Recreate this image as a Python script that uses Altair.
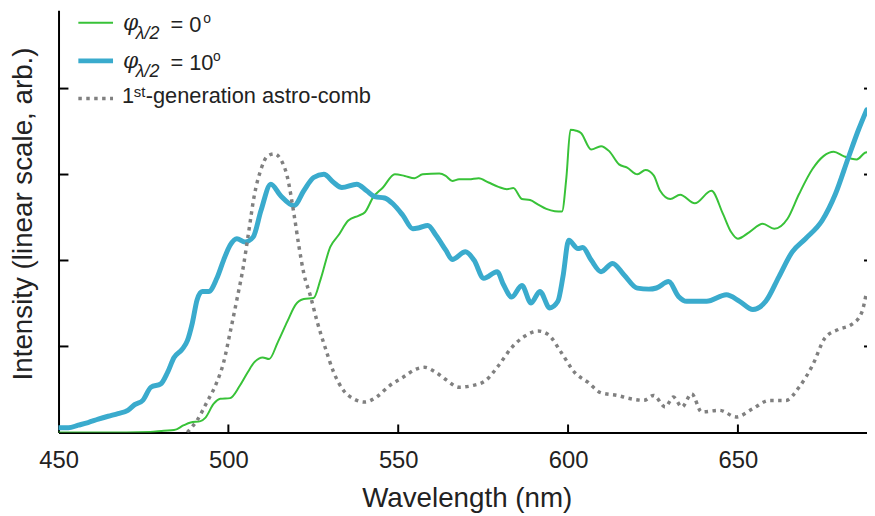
import altair as alt
import pandas as pd

# ---------------- data ----------------
green_nm = [450, 460, 470, 477, 481, 484, 486.9, 488.9, 491.8, 493.2, 495.7, 497.6, 500.5,
            503.4, 505.7, 507.6, 510.1, 512.0, 514.5, 517.4, 519.8, 522.2, 525.1, 527.1,
            530.0, 532.4, 535.3, 538.4, 540.2, 542.6, 545.5, 549.0, 551.9, 554.8, 557.2,
            562.1, 564.0, 565.9, 567.9, 570.8, 573.7, 576.6, 579.5, 582.0, 583.9, 586.4,
            588.8, 591.2, 593.6, 596.1, 598.2, 599.5, 600.7, 602.4, 603.8, 606.8, 609.7,
            612.1, 615.0, 617.4, 620.4, 622.8, 625.2, 627.1, 630.1, 633.0, 637.3, 642.2,
            645.6, 648.0, 650.0, 653.4, 657.3, 660.7, 664.6, 668.0, 671.9, 675.2, 678.2,
            681.1, 685.0, 687.4, 688.0]
green_val = [0, 0, 0, 0.005, 0.02, 0.027, 0.084, 0.115, 0.131, 0.169, 0.334, 0.392, 0.399,
             0.545, 0.70, 0.814, 0.872, 0.853, 1.045, 1.294, 1.486, 1.551, 1.563, 1.774,
             2.158, 2.293, 2.465, 2.523, 2.561, 2.734, 2.849, 3.003, 2.984, 2.957, 3.003,
             3.011, 2.984, 2.926, 2.945, 2.945, 2.957, 2.907, 2.857, 2.830, 2.842, 2.715,
             2.703, 2.650, 2.600, 2.573, 2.569, 2.965, 3.521, 3.510, 3.483, 3.291, 3.330,
             3.272, 3.118, 3.080, 3.003, 3.053, 2.990, 2.811, 2.715, 2.765, 2.665, 2.811,
             2.542, 2.331, 2.254, 2.331, 2.427, 2.369, 2.485, 2.773, 3.061, 3.214, 3.264,
             3.214, 3.176, 3.253, 3.26]

blue_nm = [450, 452.9, 455.8, 458.7, 461.7, 464.6, 467.5, 470.4, 472.4, 474.8, 477.2, 480.1,
           482.1, 484.0, 486.4, 487.9, 489.4, 490.8, 492.3, 494.2, 496.6, 498.6, 500.5,
           502.5, 504.9, 507.3, 509.6, 512.5, 515.4, 519.3, 522.2, 525.1, 528.1, 531.0,
           533.4, 537.8, 540.7, 543.1, 546.0, 548.5, 551.4, 554.3, 556.2, 558.7, 561.1,
           564.0, 565.9, 569.8, 572.3, 575.2, 579.1, 581.0, 583.4, 586.4, 589.1, 591.7,
           594.6, 597.0, 598.5, 600.2, 602.9, 604.3, 606.8, 609.7, 613.1, 616.5, 620.4,
           623.8, 626.0, 629.6, 632.5, 634.9, 640.8, 646.6, 650.5, 654.4, 658.2, 662.1,
           666.0, 669.9, 674.8, 678.7, 682.5, 685.5, 687.9]
blue_val = [0.054, 0.054, 0.084, 0.115, 0.154, 0.188, 0.219, 0.257, 0.323, 0.373, 0.526,
            0.564, 0.699, 0.872, 0.968, 1.064, 1.275, 1.544, 1.640, 1.640, 1.793, 2.005,
            2.177, 2.254, 2.216, 2.273, 2.581, 2.888, 2.753, 2.638, 2.811, 2.965, 3.003,
            2.907, 2.849, 2.888, 2.811, 2.742, 2.727, 2.657, 2.523, 2.369, 2.381, 2.408,
            2.293, 2.120, 2.012, 2.101, 2.005, 1.793, 1.870, 1.717, 1.575, 1.709, 1.505,
            1.640, 1.448, 1.525, 1.813, 2.235, 2.139, 2.151, 2.005, 1.870, 1.966, 1.832,
            1.678, 1.667, 1.680, 1.755, 1.582, 1.525, 1.525, 1.601, 1.525, 1.429, 1.525,
            1.813, 2.101, 2.254, 2.465, 2.773, 3.195, 3.521, 3.752]

comb_nm = [487.9, 490.8, 493.7, 496.6, 498.6, 500.5, 502.5, 504.4, 505.9, 507.6, 509.6,
           511.5, 513.5, 515.4, 517.4, 519.3, 520.8, 522.2, 524.2, 526.1, 528.5, 531.0,
           533.9, 536.8, 540.2, 543.6, 547.5, 551.4, 555.3, 557.7, 561.1, 564.0, 567.9,
           571.8, 575.7, 579.5, 583.4, 587.3, 591.2, 594.1, 598.0, 601.9, 605.8, 609.7,
           614.5, 618.4, 622.3, 625.2, 628.6, 631.0, 633.5, 636.4, 639.3, 644.6, 649.5,
           654.4, 659.2, 664.1, 668.0, 671.9, 675.7, 679.6, 683.5, 686.4, 687.9]
comb_val = [0, 0.142, 0.353, 0.584, 0.814, 1.160, 1.544, 1.928, 2.312, 2.75, 3.061, 3.214,
            3.241, 3.176, 2.965, 2.542, 2.158, 1.851, 1.582, 1.294, 0.987, 0.699, 0.488,
            0.392, 0.353, 0.411, 0.545, 0.641, 0.737, 0.757, 0.699, 0.615, 0.526, 0.545,
            0.603, 0.776, 0.987, 1.121, 1.179, 1.140, 0.929, 0.699, 0.584, 0.461, 0.430,
            0.392, 0.373, 0.430, 0.296, 0.411, 0.296, 0.449, 0.238, 0.257, 0.180, 0.276,
            0.372, 0.372, 0.526, 0.776, 1.102, 1.198, 1.256, 1.390, 1.640]

x_ticks = [500, 550, 600, 650]
x_labels = [450, 500, 550, 600, 650]
y_ticks = [1, 2, 3, 4]

x_title = "Wavelength (nm)"
y_title = "Intensity (linear scale, arb.)"
legend_eq = ["= 0", "= 10"]
legend_comb = ["1", "st", "-generation astro-comb"]

# ---------------- styling ----------------
W, H = 816, 426
FONT = "Liberation Sans"
TXT = "#222222"
GREEN, BLUE, GREY = "#38c238", "#3aabcd", "#808080"

xscale = alt.Scale(domain=[450, 688], nice=False, zero=False)
yscale = alt.Scale(domain=[0, 4.91], nice=False, zero=False)

x_axis = alt.Axis(values=x_labels, title=x_title, ticks=False, tickSize=0, grid=False,
                  labelPadding=16, labelFontSize=24, labelColor=TXT, labelFont=FONT,
                  labelFlush=False, labelOverlap=False,
                  titleFontSize=28, titleFont=FONT, titleColor=TXT, titleFontWeight="normal",
                  titlePadding=13, titleX=412, domainColor="black", domainWidth=2)
y_axis = alt.Axis(title=y_title, labels=False, ticks=False, tickSize=0, grid=False,
                  titleFontSize=28, titleFont=FONT, titleColor=TXT, titleFontWeight="normal",
                  titlePadding=21, titleY=205, domain=True, domainColor="black", domainWidth=2)

X = alt.X("nm:Q", scale=xscale, axis=x_axis)
Y = alt.Y("val:Q", scale=yscale, axis=y_axis)


def series(nm, val):
    return pd.DataFrame({"nm": nm, "val": val})


def line(df, color, width, dash=None):
    kw = dict(color=color, strokeWidth=width, interpolate="monotone", clip=True,
              strokeJoin="round")
    if dash is not None:
        kw["strokeDash"] = dash
        kw["strokeCap"] = "butt"
    else:
        kw["strokeCap"] = "round"
    return alt.Chart(df).mark_line(**kw).encode(x=X, y=Y)


green = line(series(green_nm, green_val), GREEN, 2)
blue = line(series(blue_nm, blue_val), BLUE, 5)
comb = line(series(comb_nm, comb_val), GREY, 3.5, dash=[3.5, 4.5])

xt = pd.DataFrame({"nm": x_ticks})
yt = pd.DataFrame({"val": y_ticks})
bottom_ticks = alt.Chart(xt).mark_rule(color="black", strokeWidth=2).encode(
    x=X, y=alt.value(H), y2=alt.value(H - 8))
left_ticks = alt.Chart(yt).mark_rule(color="black", strokeWidth=2).encode(
    y=Y, x=alt.value(0), x2=alt.value(10))
right_ticks = alt.Chart(yt).mark_rule(color="black", strokeWidth=2).encode(
    y=Y, x=alt.value(W - 3), x2=alt.value(W))

one = pd.DataFrame({"k": [0]})


def sample(y, color, width, dash=None):
    kw = dict(color=color, strokeWidth=width)
    if dash is not None:
        kw["strokeDash"] = dash
        kw["strokeCap"] = "butt"
    return alt.Chart(one).mark_rule(**kw).encode(
        x=alt.value(20), x2=alt.value(55), y=alt.value(y))


def txt(text, x, y, size, italic=False, font=FONT):
    kw = dict(align="left", baseline="alphabetic", fontSize=size, color=TXT, font=font)
    if italic:
        kw["fontStyle"] = "italic"
    return alt.Chart(one).mark_text(**kw).encode(
        x=alt.value(x), y=alt.value(y), text=alt.value(text))


legend = [
    sample(12.5, GREEN, 2),
    sample(51, BLUE, 5),
    sample(89, GREY, 3.5, dash=[3.5, 4.5]),
    # row 1
    txt("φ", 65, 20, 22, italic=True, font="DejaVu Serif"),
    txt("λ/2", 78, 29, 18, italic=True),
    txt(legend_eq[0], 113, 22, 22),
    txt("o", 146, 13, 14),
    # row 2
    txt("φ", 65, 58, 22, italic=True, font="DejaVu Serif"),
    txt("λ/2", 78, 67, 18, italic=True),
    txt(legend_eq[1], 113, 60, 22),
    txt("o", 156, 51, 14),
    # row 3
    txt(legend_comb[0], 64, 94, 22),
    txt(legend_comb[1], 76, 87, 15),
    txt(legend_comb[2], 88, 94, 22),
]

chart = alt.layer(green, blue, comb, bottom_ticks, left_ticks, right_ticks, *legend).properties(
    width=W, height=H,
    autosize=alt.AutoSizeParams(type="none"),
    padding={"left": 51, "top": 0, "right": 0, "bottom": 82},
).configure(font=FONT).configure_view(strokeWidth=0)

chart.save("out.html", embed_options={"renderer": "svg", "actions": False})
